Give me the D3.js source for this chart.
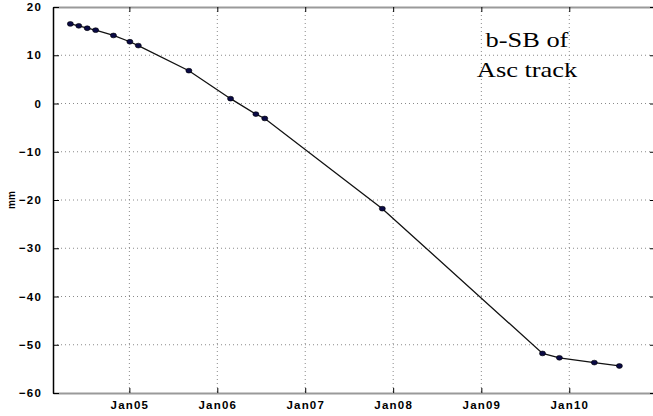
<!DOCTYPE html>
<html>
<head>
<meta charset="utf-8">
<script src="https://cdn.jsdelivr.net/npm/d3@7"></script>
<style>
  body { margin: 0; background: #fff; }
  svg { display: block; }
  .tick-label { font-family: "Liberation Sans", Arial, sans-serif; font-size: 11.5px; font-weight: bold; letter-spacing: 1.2px; fill: #000; }
</style>
</head>
<body>
<svg id="graf"></svg>
<script>
// acquisition dates (approx)
let fechas = [
  '2004-05-01', '2004-06-05', '2004-07-10', '2004-08-14', '2004-10-27',
  '2005-01-03', '2005-02-07', '2005-09-05', '2006-02-25', '2006-06-10',
  '2006-07-17', '2007-11-17', '2009-09-12', '2009-11-21', '2010-04-15',
  '2010-07-28'
]
// displacement in mm
let valores = [
  16.5, 16.1, 15.6, 15.2, 14.1,
  12.8, 12.0, 6.8, 1.0, -2.2,
  -3.1, -21.8, -51.8, -52.7, -53.7,
  -54.4
]
let yTicks = [-60, -50, -40, -30, -20, -10, 0, 10, 20]
let xTicks = ['2005-01-01', '2006-01-01', '2007-01-01', '2008-01-01', '2009-01-01', '2010-01-01']
let titulo = ['b-SB of', 'Asc track']

function graficar() {
  let width = 653
  let height = 416
  let left = 53, right = 656, top = 7, bottom = 393
  let parse = d3.timeParse('%Y-%m-%d')

  let datos = fechas.map((f, i) => ({ fecha: parse(f), mm: valores[i] }))

  let x = d3.scaleTime()
            .domain([new Date(2004, 1, 19), new Date(2010, 11, 27)])
            .range([left, right])
  let y = d3.scaleLinear()
            .domain([-60, 20])
            .range([bottom, top])

  let svg = d3.select('#graf')
              .attr('width', width)
              .attr('height', height)

  // grid
  let grid = svg.append('g')
  grid.selectAll('.gx')
    .data(xTicks.map(parse))
    .enter().append('line')
    .attr('x1', d => x(d)).attr('x2', d => x(d))
    .attr('y1', top).attr('y2', bottom)
    .attr('stroke', '#8a8a8a').attr('stroke-width', 1)
    .attr('stroke-dasharray', '1,3')
  grid.selectAll('.gy')
    .data(yTicks.slice(1, -1))
    .enter().append('line')
    .attr('x1', left).attr('x2', right)
    .attr('y1', d => y(d)).attr('y2', d => y(d))
    .attr('stroke', '#8a8a8a').attr('stroke-width', 1)
    .attr('stroke-dasharray', '1,3')

  // axes, MATLAB style: ticks pointing inward
  let axB = svg.append('g')
    .attr('transform', `translate(0, ${bottom})`)
    .call(d3.axisBottom(x).tickValues(xTicks.map(parse)).tickFormat(d3.timeFormat('Jan%y')).tickSizeInner(-5).tickSizeOuter(0).tickPadding(8))
  axB.select('.domain').attr('stroke', '#9a9a9a').attr('stroke-width', 2)
  axB.selectAll('.tick line').attr('stroke', '#000')
  axB.selectAll('text').attr('class', 'tick-label').attr('font-size', null).attr('font-family', null)

  let axT = svg.append('g')
    .attr('transform', `translate(0, ${top})`)
    .call(d3.axisTop(x).tickValues(xTicks.map(parse)).tickFormat('').tickSizeInner(-5).tickSizeOuter(0))
  axT.select('.domain').attr('stroke', '#9a9a9a').attr('stroke-width', 2)

  let axL = svg.append('g')
    .attr('transform', `translate(${left}, 0)`)
    .call(d3.axisLeft(y).tickValues(yTicks).tickSizeInner(-6).tickSizeOuter(0).tickPadding(11))
  axL.select('.domain').attr('stroke', '#000').attr('stroke-width', 1.5)
  axL.selectAll('text').attr('class', 'tick-label').attr('font-size', null).attr('font-family', null)

  let axR = svg.append('g')
    .attr('transform', `translate(${right}, 0)`)
    .call(d3.axisRight(y).tickValues(yTicks).tickFormat('').tickSizeInner(-6).tickSizeOuter(0))

  // y label
  svg.append('text')
    .attr('transform', `translate(15, ${(top + bottom) / 2}) rotate(-90)`)
    .attr('text-anchor', 'middle')
    .style('font-family', 'Liberation Sans, Arial, sans-serif')
    .style('font-size', '10px')
    .style('font-weight', 'bold')
    .text('mm')

  // series
  let linea = d3.line()
                .x(d => x(d.fecha))
                .y(d => y(d.mm))
  svg.append('path')
    .datum(datos)
    .attr('d', linea)
    .attr('fill', 'none')
    .attr('stroke', '#111')
    .attr('stroke-width', 1.3)

  svg.selectAll('.pt')
    .data(datos)
    .enter().append('ellipse')
    .attr('cx', d => x(d.fecha))
    .attr('cy', d => y(d.mm))
    .attr('rx', 3)
    .attr('ry', 2.4)
    .attr('fill', '#0a0a45')
    .attr('stroke', '#000')
    .attr('stroke-width', 0.6)

  // annotation (slightly stretched like the original)
  svg.append('g')
    .attr('transform', 'translate(527, 0) scale(1.2, 1)')
    .append('text')
    .attr('y', 47)
    .attr('text-anchor', 'middle')
    .style('font-family', 'Liberation Serif, Times New Roman, serif')
    .style('font-size', '22px')
    .selectAll('tspan')
    .data(titulo)
    .enter().append('tspan')
    .attr('x', 0)
    .attr('dy', (d, i) => i === 0 ? 0 : 30)
    .text(d => d)
}

graficar()
</script>
</body>
</html>
